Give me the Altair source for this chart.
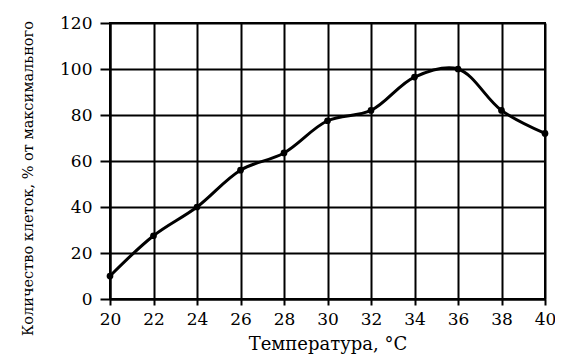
import altair as alt
import pandas as pd

temps = [20, 22, 24, 26, 28, 30, 32, 34, 36, 38, 40]
cells = [10, 27.5, 40, 56, 63.5, 77.5, 82, 96.5, 100, 82, 72]

df = pd.DataFrame({"t": temps, "v": cells})
FONT = "DejaVu Serif"

base = alt.Chart(df).encode(
    x=alt.X("t:Q", scale=alt.Scale(domain=[20, 40], nice=False, zero=False),
            axis=alt.Axis(values=list(range(20, 41, 2)), title="Температура, °C",
                          tickSize=6, labelPadding=6, titlePadding=8, labelFlush=False)),
    y=alt.Y("v:Q", scale=alt.Scale(domain=[0, 120], nice=False),
            axis=alt.Axis(values=list(range(0, 121, 20)),
                          title="Количество клеток, % от максимального",
                          tickSize=10, labelPadding=8, labelFlush=False,
                          titleX=-82, titleY=155, titleAngle=-90, titleFontSize=14.5,
                          titleAlign="center", titleBaseline="middle")),
)

line = base.mark_line(interpolate="catmull-rom", color="black", strokeWidth=3)
pts = base.mark_point(filled=True, color="black", size=45, opacity=1)

chart = (line + pts).properties(
    width=435, height=276,
    autosize=alt.AutoSizeParams(type="none"),
    padding={"left": 102, "top": 15, "right": 10, "bottom": 55},
).configure_view(stroke="black", strokeWidth=2).configure_axis(
    grid=True, gridColor="black", gridWidth=2, gridOpacity=1,
    domainColor="black", domainWidth=2,
    tickColor="black", tickWidth=2,
    labelFont=FONT, labelFontSize=17, labelColor="black",
    titleFont=FONT, titleFontSize=18, titleColor="black", titleFontWeight="normal",
)

chart.save("out.html", embed_options={"renderer": "svg", "actions": False})
